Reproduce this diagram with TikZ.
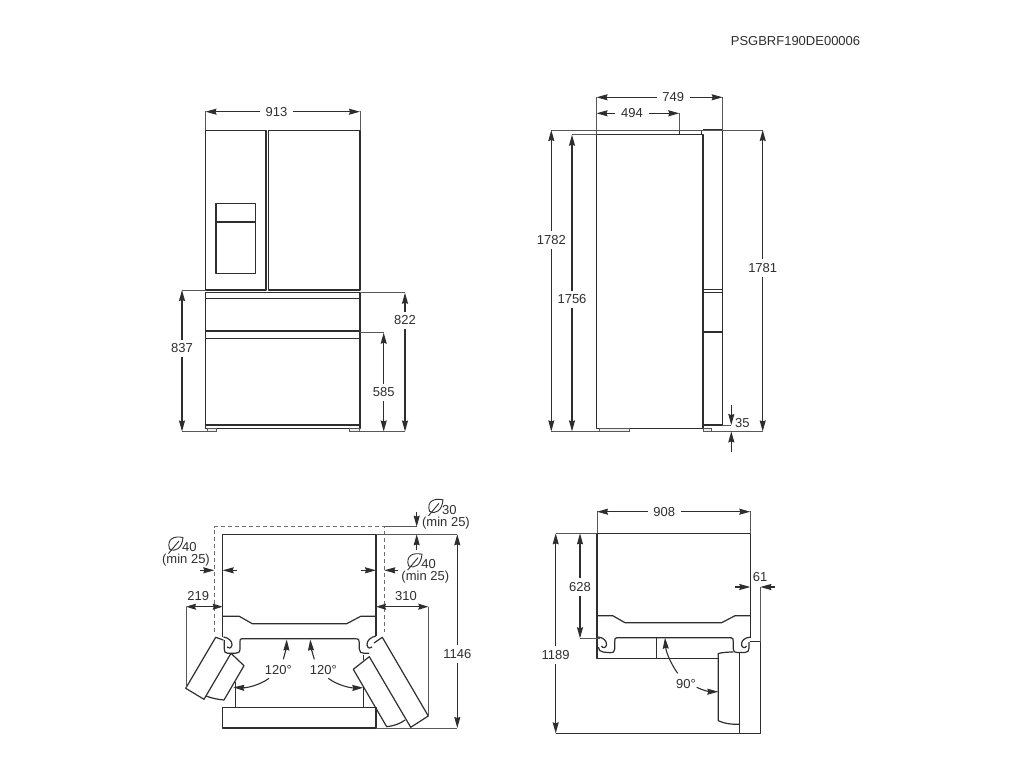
\documentclass[tikz,border=0pt]{standalone}
\usepackage{fontspec}
\setmainfont{Liberation Sans}
\usetikzlibrary{arrows.meta}
\definecolor{ink}{HTML}{2E2E2E}
\tikzset{
  body/.style={draw=ink,line width=1.2pt,line join=round},
  heavy/.style={draw=ink,line width=1.6pt,line join=round},
  thin/.style={draw=ink!80,line width=0.8pt},
  foot/.style={draw=ink!80,line width=0.8pt,fill=ink!8},
  dashline/.style={draw=ink!70,line width=0.8pt,dash pattern=on 4pt off 3pt},
  tip/.style={draw=ink,line width=1.1pt,-{Stealth[length=11pt,width=6pt,inset=1pt]}},
  shorttip/.style={draw=ink,line width=1.1pt,{Stealth[length=10pt,width=6pt,inset=1pt]}-{Stealth[length=10pt,width=6pt,inset=1pt]}},
  dimtext/.style={font=\fontsize{13}{13}\selectfont,text=ink,inner xsep=5.5pt,inner ysep=4pt},
  plaintext/.style={font=\fontsize{13}{13}\selectfont,text=ink,inner sep=0pt},
  leaf/.pic={
    \draw[draw=ink,line width=0.9pt,line join=round]
      (8,-7.5) .. controls (-1,-9.5) and (-8.5,-6) .. (-5.5,4) .. controls (1,7.5) and (7,3) .. cycle;
    \draw[draw=ink,line width=0.9pt] (-6.5,8.5) -- (4,-4);
  }
}
\begin{document}
\begin{tikzpicture}[x=1pt,y=-1pt]
\useasboundingbox (0,0) rectangle (1024,768);
\node[plaintext] (code) at (795.5,41) {PSGBRF190DE00006};

% ---------- front view
\draw[body] (205.5,290) rectangle (266,130.5);
\draw[body] (268.3,290) rectangle (360,130.5);
\draw[body] (216,203.3) rectangle (255.7,273.7);
\draw[body] (216,222) -- (255.7,222);
\draw[body] (205.5,292.7) rectangle (360,428.3);
\draw[body] (205.5,298.3) -- (360,298.3);
\draw[heavy] (205.5,331.2) -- (360,331.2);
\draw[body] (205.5,338.7) -- (360,338.7);
\draw[body] (205.5,425) -- (360,425);
\draw[foot] (207,428.3) rectangle (216.7,431.5);
\draw[foot] (349.3,428.3) rectangle (359,431.5);
\draw[thin] (205.5,130) -- (205.5,111); \draw[thin] (360,130) -- (360,111);
\draw[thin] (182,290) -- (205.5,290);
\draw[thin] (360,292.7) -- (405,292.7);
\draw[thin] (360,332.7) -- (383.7,332.7);
\draw[thin] (182,431.5) -- (207,431.5) (359,431.5) -- (405,431.5);

\node[dimtext] (d913) at (276.5,111.7) {913};
\draw[tip] (d913.west) -- (205.5,111.7); \draw[tip] (d913.east) -- (360,111.7);
\node[dimtext] (d837) at (182,348.5) {837};
\draw[tip] (d837.north) -- (182,290); \draw[tip] (d837.south) -- (182,431.5);
\node[dimtext] (d822) at (405,320.5) {822};
\draw[tip] (d822.north) -- (405,292.7); \draw[tip] (d822.south) -- (405,431.5);
\node[dimtext] (d585) at (383.7,392.5) {585};
\draw[tip] (d585.north) -- (383.7,332.7); \draw[tip] (d585.south) -- (383.7,431.5);

% ---------- side view
\draw[body] (596.5,134.7) -- (596.5,428.3) -- (703,428.3) -- (703,134.7) -- cycle;
\draw[body] (679.3,130) -- (679.3,134.7);
\draw[body] (701.7,130) -- (701.7,134.7);
\draw[body] (703,130) -- (722.7,130) -- (722.7,425) -- (703,425);
\draw[body] (703,289.3) -- (722.7,289.3);
\draw[body] (703,292.3) -- (722.7,292.3);
\draw[heavy] (703,331.7) -- (722.7,331.7);
\draw[foot] (599.3,428.3) rectangle (629.3,431.4);
\draw[foot] (703,428.3) rectangle (711,431.4);
\draw[thin] (551.3,130) -- (762.7,130);
\draw[thin] (572,134.7) -- (596.5,134.7);
\draw[thin] (551.3,431.4) -- (599.3,431.4) (711,431.4) -- (762.7,431.4);
\draw[thin] (596.5,97) -- (596.5,134); \draw[thin] (722.7,97) -- (722.7,130);
\draw[thin] (722.7,425) -- (731.3,425);

\node[dimtext] (d749) at (673.3,97.3) {749};
\draw[tip] (d749.west) -- (596.5,97.3); \draw[tip] (d749.east) -- (722.7,97.3);
\node[dimtext] (d494) at (632,113.3) {494};
\draw[tip] (d494.west) -- (596.5,113.3); \draw[tip] (d494.east) -- (679.3,113.3);
\draw[thin] (679.3,113.3) -- (679.3,130);
\node[dimtext] (d1782) at (551.3,239.7) {1782};
\draw[tip] (d1782.north) -- (551.3,130); \draw[tip] (d1782.south) -- (551.3,431.4);
\node[dimtext] (d1756) at (572,299.3) {1756};
\draw[tip] (d1756.north) -- (572,134.7); \draw[tip] (d1756.south) -- (572,431.4);
\node[dimtext] (d1781) at (762.7,267.7) {1781};
\draw[tip] (d1781.north) -- (762.7,130); \draw[tip] (d1781.south) -- (762.7,431.4);
\node[plaintext] (d35) at (742.3,422.7) {35};
\coordinate (a35a) at (731.3,405); \coordinate (a35b) at (731.3,451.7);
\draw[tip] (a35a) -- (731.3,425); \draw[tip] (a35b) -- (731.3,431.4);

% ---------- plan, doors at 120
\draw[dashline] (214.3,632) -- (214.3,526.7) -- (384.3,526.7) -- (384.3,632);
\draw[thin] (384.3,526.7) -- (416.7,526.7);
\draw[body] (222.7,637) -- (222.7,534.3) -- (376,534.3) -- (376,636);
\draw[thin] (376,534.3) -- (457.3,534.3);
\draw[body] (222.7,616.3) -- (239.3,616.3) -- (252.3,623.7) -- (346.7,623.7) -- (360.7,616.3) -- (376,616.3);
% left hinge and recess
\draw[body] (356.7,638.7) -- (241.7,638.7) .. controls (240,638.7) and (240,640) .. (240,642)
  -- (240,649) .. controls (240,652.5) and (238,653.3) .. (235,653.3) -- (228,653.3)
  .. controls (225,653.3) and (224.3,652) .. (224.3,649) -- (224.3,640);
\draw[body] (223.5,637) .. controls (228,637.5) and (232.5,641) .. (232,645)
  .. controls (231.5,648.5) and (228,649) .. (227,647);
% right hinge and recess
\draw[body] (356.7,638.7) .. controls (358.5,638.7) and (359.3,640) .. (359.3,643)
  -- (359.3,649) .. controls (359.3,652) and (361,653.3) .. (364,653.3) -- (369,653.3);
\draw[body] (376,636) .. controls (371,637) and (366.5,640.5) .. (367,645)
  .. controls (367.5,648.5) and (371,649) .. (372,647);
% left door
\draw[body] (223.3,640) -- (215.7,637.3) -- (185.7,688.3) -- (204,699.3) -- (231,653.3);
\draw[body] (231,653.3) -- (244,665.7) -- (224,700) .. controls (218,699.5) and (211,698) .. (206,696);
\draw[body] (235.7,681.7) -- (235.7,707.3);
% right door
\draw[body] (374,643) -- (382.3,637.3) -- (428.3,716) -- (410.7,727.3) -- (369.3,656.7) -- (353.3,669.3) -- (386.7,726.7) .. controls (393,726) and (400,724) .. (405,720);
\draw[body] (363.3,655) -- (363.3,660);
\draw[body] (363.3,686) -- (363.3,707.3);
% open bottom drawer
\draw[body] (222.3,707.3) rectangle (376,728);
\draw[thin] (376,728) -- (457.3,728);
\draw[thin] (186,606.7) -- (186,688.3);
\draw[thin] (428.3,606.7) -- (428.3,716);

\coordinate (n1) at (269,678.3); \coordinate (n2) at (283.3,659.3);
\coordinate (n3) at (314.3,659.3); \coordinate (n4) at (328.3,678.3);
\draw[tip] (n1) .. controls (260,685) and (247,688) .. (233.3,687.3);
\draw[tip] (n2) .. controls (285,653) and (286.5,647) .. (286.7,639.5);
\draw[tip] (n3) .. controls (312.5,653) and (310.8,647) .. (310.3,639.5);
\draw[tip] (n4) .. controls (337,685) and (350,688) .. (363.3,687.7);
\node[plaintext] (ang1) at (278.3,670) {120°};
\node[plaintext] (ang2) at (323.3,670) {120°};

\node[dimtext] (d219) at (198.3,596) {219};
\coordinate (c219a) at (186,606.7); \coordinate (c219b) at (222.7,606.7);
\draw[shorttip] (c219a) -- (c219b);
\node[dimtext] (d310) at (406,596) {310};
\coordinate (c310a) at (376,606.7); \coordinate (c310b) at (428.3,606.7);
\draw[shorttip] (c310a) -- (c310b);
\node[dimtext] (d1146) at (457.3,654) {1146};
\draw[tip] (d1146.north) -- (457.3,534.3); \draw[tip] (d1146.south) -- (457.3,728);

% clearances
\pic at (435,507.3) {leaf};
\node[plaintext] (v30) at (449.3,510) {30};
\node[plaintext] (m30) at (446,523) {(min 25)};
\coordinate (t30a) at (416.7,511.7); \coordinate (t30b) at (416.7,550);
\draw[tip] (t30a) -- (416.7,526.7); \draw[tip] (t30b) -- (416.7,534.3);
\pic at (175,545) {leaf};
\node[plaintext] (v40l) at (189.3,547.3) {40};
\node[plaintext] (m40l) at (186,560.5) {(min 25)};
\pic at (414,561.7) {leaf};
\node[plaintext] (v40r) at (428.7,564) {40};
\node[plaintext] (m40r) at (425.3,577.3) {(min 25)};
\coordinate (h1) at (200,570.3); \coordinate (h2) at (237.3,570.3);
\coordinate (h3) at (360.7,570.3); \coordinate (h4) at (398.3,570.3);
\draw[tip] (h1) -- (214.3,570.3); \draw[tip] (h2) -- (222.7,570.3);
\draw[tip] (h3) -- (376,570.3); \draw[tip] (h4) -- (384.3,570.3);

% ---------- plan, door at 90
\draw[body] (750.3,637.7) -- (750.3,533.3) -- (597,533.3) -- (597,658.7) -- (718.3,658.7);
\draw[body] (597,615.7) -- (612.7,615.7) -- (625,622.7) -- (721.7,622.7) -- (735,615.7) -- (750.3,615.7);
\draw[body] (731,637.7) -- (616.7,637.7) .. controls (615,637.7) and (614.7,639) .. (614.7,642)
  -- (614.7,649) .. controls (614.7,652) and (613,653) .. (610,652.7) -- (603,652)
  .. controls (600,651.5) and (598.5,650) .. (598.3,647);
\draw[body] (598,637) .. controls (603,637.5) and (607,640.5) .. (606.5,645)
  .. controls (606,648) and (602.5,648.5) .. (601.5,646);
\draw[body] (731,637.7) .. controls (733,637.7) and (733.3,639) .. (733.3,642) -- (733.3,649)
  .. controls (733.3,651.5) and (734.5,652.5) .. (737,652.5) -- (745,652.5)
  .. controls (748,652.5) and (749,650.5) .. (749,648) -- (749,642);
\draw[body] (750,637.2) .. controls (745,637.5) and (741,640.5) .. (741.5,645)
  .. controls (742,648) and (745.5,648.5) .. (746.5,646);
\draw[body] (656.7,637.7) -- (656.7,658.7);
% open door and drawer
\draw[body] (739.3,652.5) -- (739.3,733.3);
\draw[body] (733.3,652) .. controls (728,652) and (722,652.5) .. (718.3,653.5) -- (718.3,720.7)
  .. controls (724,723.5) and (731,724.5) .. (739.3,724.3);
\draw[body] (555.7,733.3) -- (760.3,733.3) -- (760.3,641.7) -- (750,641.7);
\draw[thin] (760.3,641.7) -- (760.3,587);
\draw[thin] (597,533.3) -- (555.7,533.3);
\draw[thin] (597,511) -- (597,533.3); \draw[thin] (750.3,511) -- (750.3,533.3);
\draw[thin] (580,638.3) -- (600,638.3);

\node[dimtext] (d908) at (664.3,511.7) {908};
\draw[tip] (d908.west) -- (597,511.7); \draw[tip] (d908.east) -- (750.3,511.7);
\node[dimtext] (d628) at (580,586.7) {628};
\draw[tip] (d628.north) -- (580,533.3); \draw[tip] (d628.south) -- (580,638.3);
\node[dimtext] (d1189) at (555.7,655) {1189};
\draw[tip] (d1189.north) -- (555.7,533.3); \draw[tip] (d1189.south) -- (555.7,733.3);
\node[plaintext] (d61) at (760,576.7) {61};
\coordinate (s1) at (735,587); \coordinate (s2) at (775,587);
\draw[tip] (s1) -- (750.3,587); \draw[tip] (s2) -- (760.3,587);
\node[plaintext] (ang3) at (686,684) {90°};
\coordinate (r1) at (677.7,673.3); \coordinate (r2) at (696.7,687.3);
\draw[tip] (r1) .. controls (671,664) and (666,652) .. (665,637.7);
\draw[tip] (r2) .. controls (703,690.5) and (710,691.7) .. (718.3,691.7);
\end{tikzpicture}
\end{document}
